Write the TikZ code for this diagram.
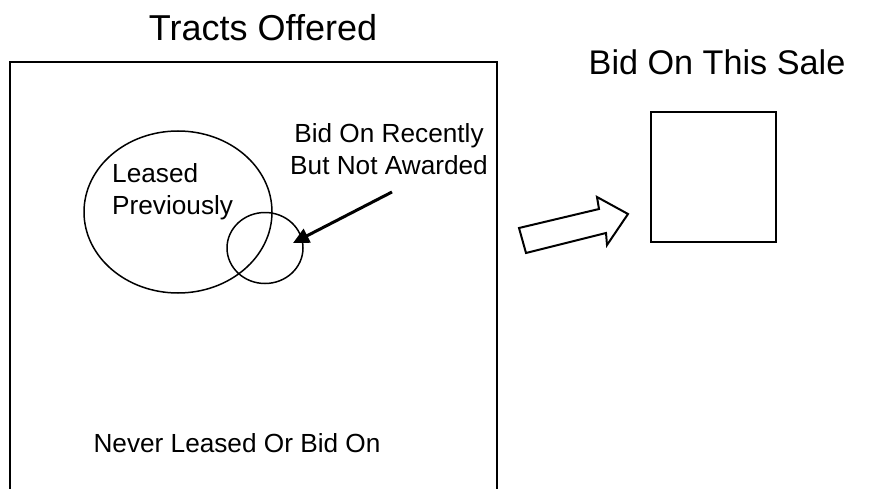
\documentclass[tikz,border=0pt]{standalone}
\usepackage{fontspec}
\setmainfont{Liberation Sans}
\usetikzlibrary{shapes.geometric,arrows.meta}
\begin{document}
\begin{tikzpicture}[x=1pt,y=-1pt,
  body/.style={font=\fontsize{26.2}{32}\selectfont, inner sep=0pt, align=left},
  title/.style={font=\fontsize{36}{40}\selectfont, inner sep=0pt},
  frame/.style={draw, line width=2pt},
  ring/.style={draw, ellipse, line width=1.5pt, inner sep=0pt}]
\useasboundingbox (0,0) rectangle (874,489);
% big open-bottom box
\draw[frame] (10,489) -- (10,62) -- (497,62) -- (497,489);
\node[title] (t1) at (263,28) {Tracts Offered};
\node[title, font=\fontsize{34.2}{40}\selectfont] (t2) at (717,62) {Bid On This Sale};
\node[frame, minimum width=125pt, minimum height=130pt] (sale) at (713.5,177) {};
% ellipses
\node[ring, minimum width=188pt, minimum height=162pt] (leased) at (178,212) {};
\node[ring, minimum width=76pt, minimum height=71pt] (recent) at (265,248) {};
\node[body, anchor=west] (lp) at (112,191.5) {Leased\\Previously};
\node[body, align=center] (bn) at (389,149) {Bid On Recently\\But Not Awarded};
\node[body] (never) at (237,443) {Never Leased Or Bid On};
% pointer arrow
\coordinate (ps) at (392,192);
\coordinate (pe) at (293,243);
\draw[line width=3pt, -{Triangle[length=16pt,width=15pt]}] (ps) -- (pe);
% block arrow
\draw[line width=2pt, line join=miter] (526,253) -- (519,228) -- (599,209) -- (597,197) -- (628,214) -- (607,245) -- (606,233) -- cycle;
\end{tikzpicture}
\end{document}
